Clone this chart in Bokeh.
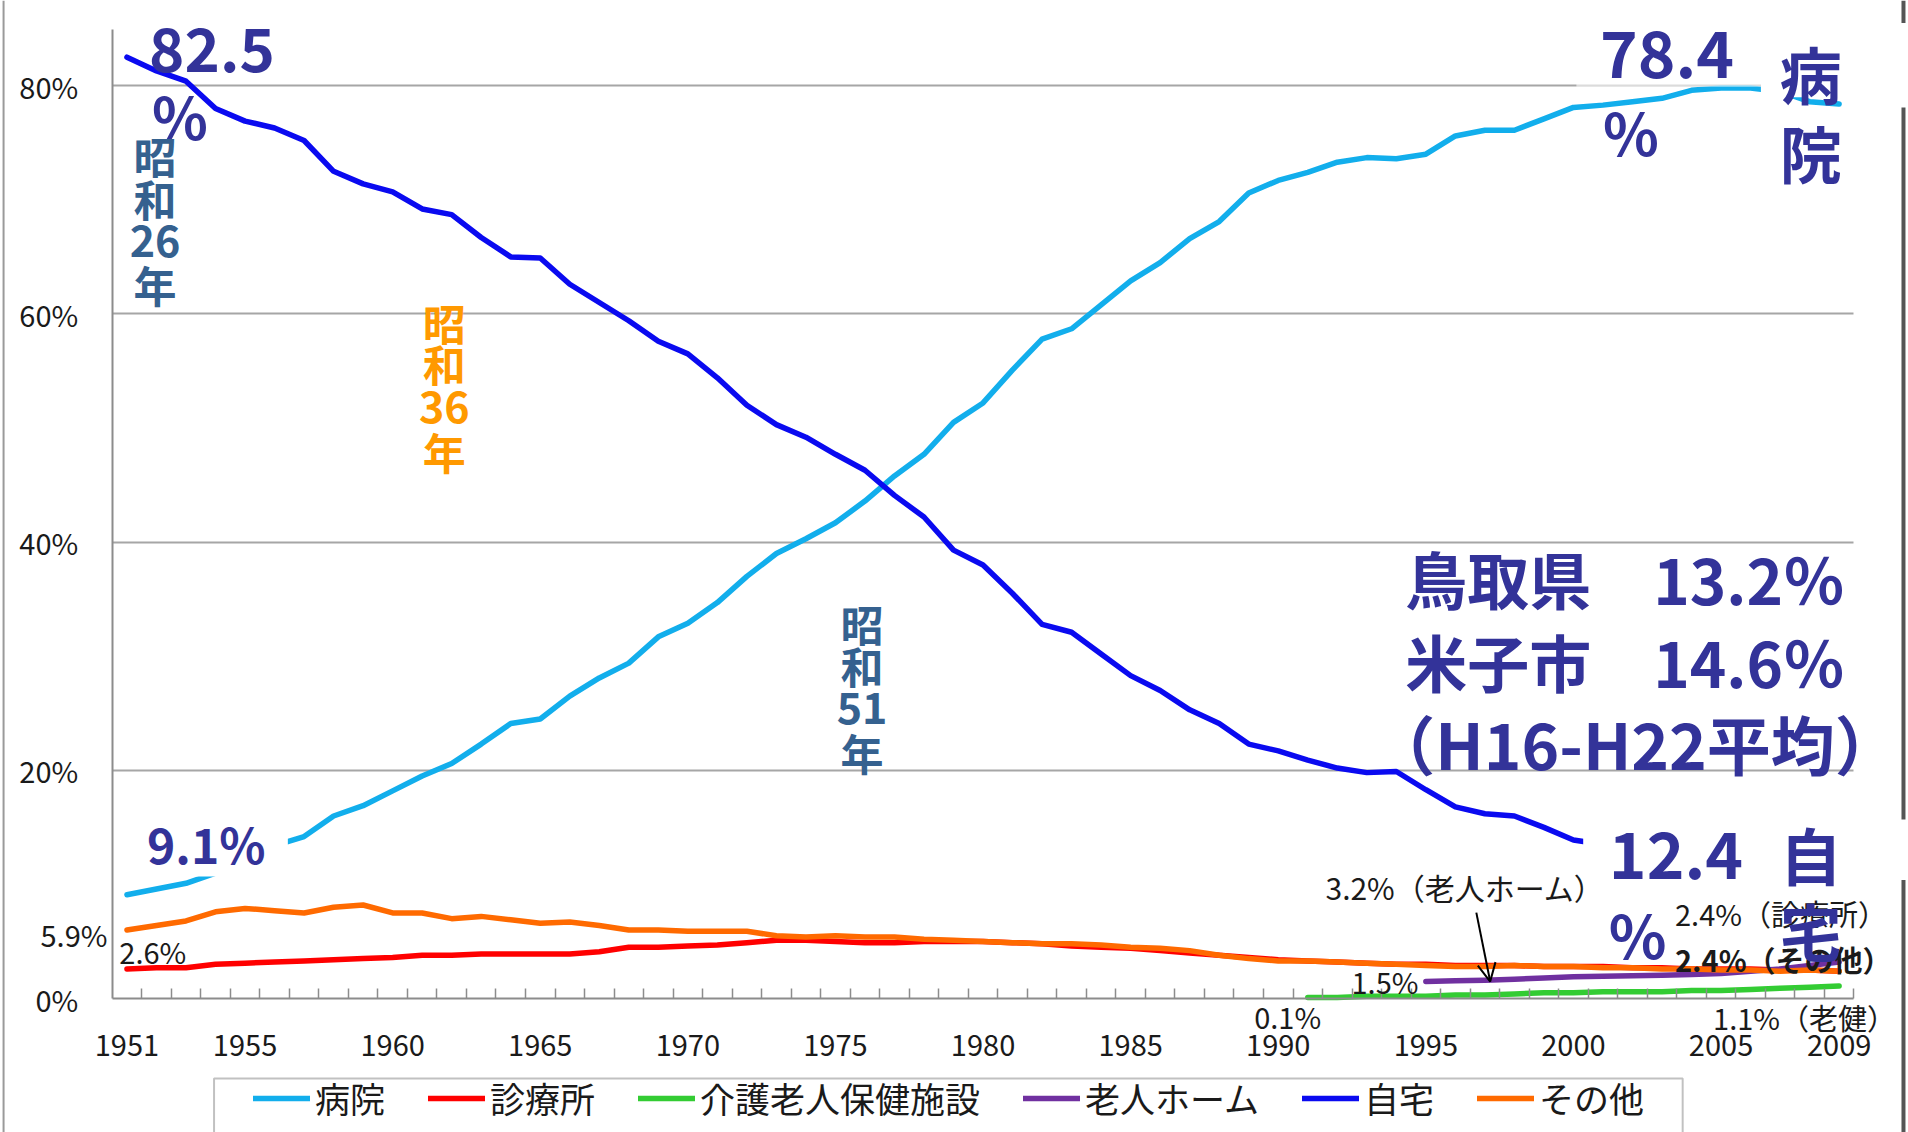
from bokeh.plotting import figure
from bokeh.models import (Range1d, FixedTicker, Legend, LegendItem, Label,
                          BoxAnnotation, Arrow, OpenHead, Span)
from bokeh.embed import file_html
from bokeh.resources import INLINE

# ---------------- data ----------------
years = list(range(1951, 2010))
hospital = [9.1, 9.6, 10.1, 11.0, 12.0, 13.4, 14.2, 16.0, 16.9, 18.2,
            19.5, 20.6, 22.3, 24.1, 24.5, 26.5, 28.1, 29.4, 31.7, 32.9,
            34.7, 37.0, 39.0, 40.3, 41.7, 43.6, 45.8, 47.7, 50.5, 52.2,
            55.1, 57.8, 58.7, 60.8, 62.9, 64.5, 66.6, 68.1, 70.6, 71.7,
            72.4, 73.3, 73.7, 73.6, 74.0, 75.6, 76.1, 76.1, 77.1, 78.1,
            78.3, 78.6, 78.9, 79.6, 79.8, 79.8, 79.5, 78.6, 78.4]
clinic = [2.6, 2.7, 2.7, 3.0, 3.1, 3.2, 3.3, 3.4, 3.5, 3.6,
          3.8, 3.8, 3.9, 3.9, 3.9, 3.9, 4.1, 4.5, 4.5, 4.6,
          4.7, 4.9, 5.1, 5.1, 5.0, 4.9, 4.9, 5.0, 5.0, 5.0,
          4.9, 4.8, 4.6, 4.5, 4.4, 4.2, 4.0, 3.8, 3.6, 3.4,
          3.3, 3.2, 3.1, 3.0, 3.0, 2.9, 2.9, 2.9, 2.8, 2.8,
          2.8, 2.7, 2.7, 2.6, 2.6, 2.6, 2.5, 2.5, 2.4]
home = [82.5, 81.3, 80.4, 78.0, 76.9, 76.3, 75.2, 72.5, 71.4, 70.7,
        69.2, 68.7, 66.7, 65.0, 64.9, 62.6, 61.0, 59.4, 57.6, 56.5,
        54.4, 52.0, 50.3, 49.2, 47.7, 46.3, 44.1, 42.2, 39.3, 38.0,
        35.5, 32.8, 32.1, 30.2, 28.3, 27.0, 25.3, 24.1, 22.3, 21.7,
        20.9, 20.2, 19.8, 19.9, 18.3, 16.8, 16.2, 16.0, 15.0, 13.9,
        13.5, 13.4, 13.0, 12.4, 12.2, 12.2, 12.3, 12.7, 12.4]
other = [6.0, 6.4, 6.8, 7.6, 7.9, 7.7, 7.5, 8.0, 8.2, 7.5,
         7.5, 7.0, 7.2, 6.9, 6.6, 6.7, 6.4, 6.0, 6.0, 5.9,
         5.9, 5.9, 5.5, 5.4, 5.5, 5.4, 5.4, 5.2, 5.1, 5.0,
         4.9, 4.8, 4.8, 4.7, 4.5, 4.4, 4.2, 3.8, 3.5, 3.3,
         3.3, 3.2, 3.1, 3.0, 2.9, 2.8, 2.8, 2.9, 2.8, 2.8,
         2.7, 2.7, 2.6, 2.6, 2.5, 2.5, 2.4, 2.5, 2.4]
rouken_years = list(range(1991, 2010))
rouken = [0.1, 0.1, 0.2, 0.2, 0.2, 0.3, 0.3, 0.4, 0.5, 0.5,
          0.6, 0.6, 0.6, 0.7, 0.7, 0.8, 0.9, 1.0, 1.1]
nursing_years = list(range(1995, 2010))
nursing = [1.5, 1.55, 1.6, 1.7, 1.8, 1.9, 1.95, 2.0, 2.05, 2.1,
           2.2, 2.4, 2.6, 2.9, 3.2]

series_names = ["病院", "診療所", "介護老人保健施設", "老人ホーム", "自宅", "その他"]
x_ticks = [1951, 1955, 1960, 1965, 1970, 1975, 1980, 1985, 1990, 1995, 2000, 2005, 2009]
x_tick_labels = [str(v) for v in x_ticks]
y_ticks = [0, 20, 40, 60, 80]
y_tick_labels = ["0%", "20%", "40%", "60%", "80%"]

# ---------------- styles ----------------
JP = "Noto Sans CJK JP"
NAVY = "#333399"
STEEL = "#35618F"
POP_ORANGE = "#FF9900"
TXT = "#1a1a1a"
colors = ["#12AEEC", "#FF0000", "#33CC33", "#7030A0", "#0A0AF0", "#FF6A00"]

X_LO, X_HI = 1950.5, 2009.5      # category axis extent
Y_LO, Y_HI = 0, 84.9             # value axis extent

# frame covers the whole canvas; axes are pinned with fixed_location
p = figure(width=1908, height=1132, output_backend="svg", toolbar_location=None,
           title=None, x_range=Range1d(1946.716, 2011.35),
           y_range=Range1d(-11.74, 87.47), min_border=0)
p.outline_line_color = None
p.background_fill_color = "white"
p.border_fill_color = "white"

p.xgrid.grid_line_color = None
g = p.ygrid[0]
if "cross_bounds" in g.properties():
    g.ticker = FixedTicker(ticks=y_ticks[1:])
    g.cross_bounds = (X_LO, X_HI)
    g.grid_line_color = "#a6a6a6"
    g.grid_line_width = 2
else:
    g.grid_line_color = None
    p.multi_line([[X_LO, X_HI] for _ in y_ticks[1:]], [[v, v] for v in y_ticks[1:]],
                 line_color="#a6a6a6", line_width=2)

xa = p.xaxis[0]
xa.fixed_location = Y_LO
xa.bounds = (X_LO, X_HI)
xa.ticker = FixedTicker(ticks=x_ticks, minor_ticks=[y + 0.5 for y in years])
xa.major_label_overrides = dict(zip(x_ticks, x_tick_labels))
xa.major_tick_line_color = None
xa.major_tick_in = 0
xa.major_tick_out = 0
xa.minor_tick_in = 10
xa.minor_tick_out = 0
xa.minor_tick_line_color = "#8c8c8c"
xa.minor_tick_line_width = 1.5
xa.axis_line_color = "#8c8c8c"
xa.axis_line_width = 2
xa.major_label_text_font = JP
xa.major_label_text_font_size = "29px"
xa.major_label_text_color = TXT
xa.major_label_standoff = 36

ya = p.yaxis[0]
ya.fixed_location = X_LO
ya.bounds = (Y_LO, Y_HI)
ya.ticker = FixedTicker(ticks=y_ticks)
ya.major_label_overrides = dict(zip(y_ticks, y_tick_labels))
ya.major_tick_line_color = None
ya.minor_tick_line_color = None
ya.major_tick_in = 0
ya.major_tick_out = 0
ya.axis_line_color = "#8c8c8c"
ya.axis_line_width = 2
ya.major_label_text_font = JP
ya.major_label_text_font_size = "29px"
ya.major_label_text_color = TXT
ya.major_label_standoff = 34

# slide edges seen in the screenshot
p.add_layout(Span(location=1946.82, dimension="height", line_color="#9a9a9a", line_width=2))
p.add_layout(Span(location=2011.18, dimension="height", line_color="#555555", line_width=4))

# ---------------- lines ----------------
series = [(years, hospital), (years, clinic), (rouken_years, rouken),
          (nursing_years, nursing), (years, home), (years, other)]
renderers = []
for (xs, ys), c in zip(series, colors):
    r = p.line(xs, ys, line_color=c, line_width=5.5, line_join="round", line_cap="round")
    renderers.append(r)

# ---------------- white boxes (text boxes of the slide) ----------------
def wbox(l, r, b, t, alpha=1.0, line=None):
    p.add_layout(BoxAnnotation(left=l, right=r, bottom=b, top=t, fill_color="white",
                               fill_alpha=alpha, line_color=line, line_width=2))

wbox(1950.94, 1956.45, 10.7, 16.5)       # 9.1%
wbox(2000.1, 2006.35, 79.9, 84.9, 0.6)    # 78.4
wbox(2006.35, 2011.35, 79.0, 84.9)        # 病院
wbox(2010.5, 2011.35, 78.1, 85.5)         # 病院 box over slide edge
wbox(2000.33, 2009.5, 11.6, 16.5)         # 12.4
wbox(2010.5, 2011.35, 10.4, 15.7)         # 自宅 box over slide edge
wbox(1953.95, 2003.7, -14.0, -7.0, 1.0, "#333333")   # legend frame

legend = Legend(items=[LegendItem(label=n, renderers=[r]) for n, r in zip(series_names, renderers)],
                orientation="horizontal", location=(253, 9),
                label_text_font=JP, label_text_font_size="35px", label_text_color=TXT,
                glyph_width=57, glyph_height=20, label_height=44, label_standoff=5,
                spacing=43, padding=0, margin=0, border_line_color=None,
                background_fill_alpha=0)
p.add_layout(legend, "center")

# ---------------- texts ----------------
def txt(text, x, y, size, color=TXT, align="left", baseline="middle", style="normal"):
    p.add_layout(Label(x=x, y=y, text=text, text_font=JP, text_font_size=f"{size}px",
                       text_color=color, text_align=align, text_baseline=baseline,
                       text_font_style=style))

# small data labels
txt("5.9%", 1950.34, 5.7, 29, align="right")
txt("2.6%", 1950.74, 4.2, 29)
txt("0.1%", 1990.32, -1.55, 29, align="center")
txt("1.5%", 1994.75, 1.58, 29, align="right")
txt("3.2%（老人ホーム）", 1991.6, 9.8, 30)
txt("2.4%（診療所）", 2003.44, 7.53, 29)
txt("2.4%（その他）", 2003.44, 3.5, 29, style="bold")
txt("1.1%（老健）", 2004.73, -1.6, 29)

# big navy labels (y = vertical centre of the ink)
txt("82.5", 1951.75, 83.1, 60, NAVY, style="bold")
txt("%", 1951.85, 77.4, 58, NAVY, style="bold")
txt("9.1%", 1951.68, 13.6, 48, NAVY, style="bold")
txt("78.4", 2000.9, 82.7, 64, NAVY, style="bold")
txt("%", 2001.0, 76.0, 58, NAVY, style="bold")
txt("病", 2008.04, 81.1, 62, NAVY, align="center", style="bold")
txt("院", 2008.04, 74.2, 62, NAVY, align="center", style="bold")
txt("12.4", 2001.2, 12.5, 64, NAVY, style="bold")
txt("%", 2001.2, 5.8, 60, NAVY, style="bold")
txt("自", 2008.04, 12.69, 62, NAVY, align="center", style="bold")
txt("宅", 2008.04, 6.04, 62, NAVY, align="center", style="bold")

txt("鳥取県　13.2％", 1994.3, 36.9, 62, NAVY, style="bold")
txt("米子市　14.6％", 1994.3, 29.6, 62, NAVY, style="bold")
txt("（H16-H22平均）", 1993.15, 22.5, 64, NAVY, style="bold")

# vertical era labels
for chars, x, ys, col in [
        (["昭", "和", "26", "年"], 1951.95, [73.9, 70.2, 66.4, 62.6], STEEL),
        (["昭", "和", "36", "年"], 1961.75, [59.26, 55.67, 51.82, 47.96], POP_ORANGE),
        (["昭", "和", "51", "年"], 1975.9, [32.91, 29.23, 25.47, 21.62], STEEL)]:
    for ch, yy in zip(chars, ys):
        txt(ch, x, yy, 43, col, align="center", style="bold")

p.add_layout(Arrow(end=OpenHead(size=18, line_color="black", line_width=2),
                   x_start=1996.71, y_start=7.53, x_end=1997.18, y_end=1.49,
                   line_color="black", line_width=2))

open("out.html", "w").write(file_html(p, INLINE))
